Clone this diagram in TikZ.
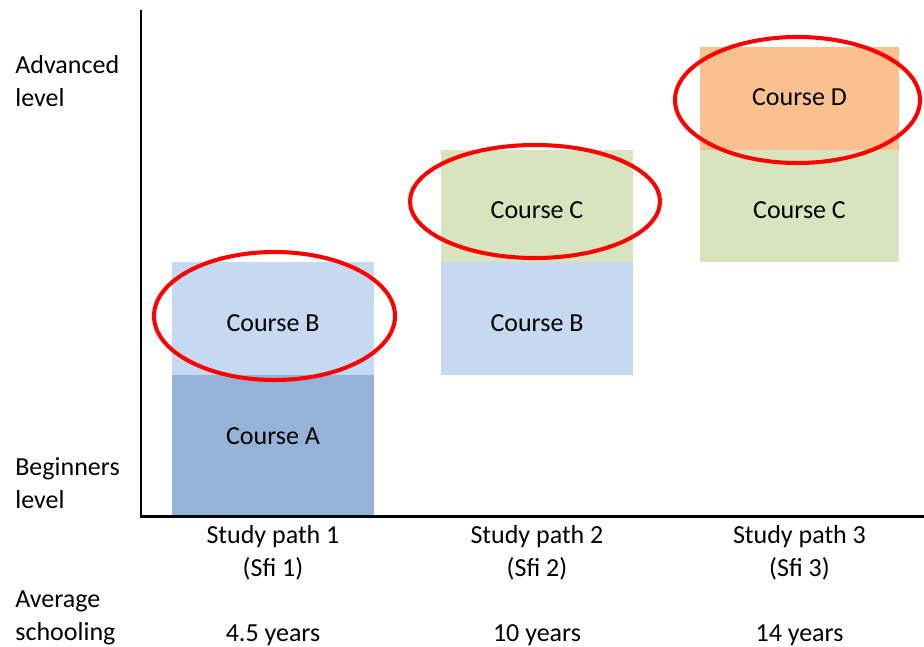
\documentclass[tikz,border=0pt]{standalone}
\usepackage{fontspec}
\setmainfont{Carlito}
\usetikzlibrary{positioning}
\definecolor{courseA}{HTML}{95B3D7}
\definecolor{courseB}{HTML}{C5D9F1}
\definecolor{courseC}{HTML}{D7E4BD}
\definecolor{courseD}{HTML}{FAC090}
\begin{document}
\begin{tikzpicture}[
		txt/.style={inner sep=0pt, font=\fontsize{14.8}{18.6}\selectfont},
		box/.style={txt, rectangle, outer sep=0pt, text height=0.5cm, text depth=0pt},
		lbl/.style={txt, align=left, anchor=west},
		pathlbl/.style={txt, align=center},
		ring/.style={draw=red, line width=2.3pt},
		axis/.style={line width=1.7pt, line join=miter}
	]
	\useasboundingbox (0,0) rectangle (18.48,12.92);

	% Define course boxes
	\node[box, fill=courseA, minimum width=4.04cm, minimum height=2.82cm, text depth=0.56cm] (p1a) at (5.46,4.01) {Course A};
	\node[box, fill=courseB, minimum width=4.04cm, minimum height=2.26cm, above=0pt of p1a] (p1b) {Course B};

	\node[box, fill=courseB, minimum width=3.84cm, minimum height=2.26cm] (p2b) at (10.74,6.55) {Course B};
	\node[box, fill=courseC, minimum width=3.84cm, minimum height=2.24cm, above=0pt of p2b] (p2c) {Course C};

	\node[box, fill=courseC, minimum width=3.98cm, minimum height=2.24cm] (p3c) at (15.99,8.80) {Course C};
	\node[box, fill=courseD, minimum width=3.98cm, minimum height=2.06cm, text height=0.3cm, above=0pt of p3c] (p3d) {Course D};

	% Axes
	\coordinate (top) at (2.82,12.72);
	\coordinate (origin) at (2.82,2.6);
	\coordinate (right) at (18.48,2.6);
	\draw[axis] (top) -- (origin) -- (right);

	% Red rings
	\draw[ring] (p1b) ++(0.03,0.05) ellipse [x radius=2.41cm, y radius=1.28cm];
	\draw[ring] (p2c) ++(-0.04,0.09) ellipse [x radius=2.50cm, y radius=1.13cm];
	\draw[ring] (p3d) ++(-0.04,-0.03) ellipse [x radius=2.45cm, y radius=1.26cm];

	% Level labels
	\node[lbl] (adv) at (0.30,11.30) {Advanced\\level};
	\node[lbl] (beg) at (0.30,3.26) {Beginners\\level};
	\node[lbl] (avg) at (0.30,0.56) {Average\\schooling};

	% Study paths
	\node[pathlbl] (sp1) at (5.46,1.87) {Study path 1\\(Sfi 1)};
	\node[pathlbl] (sp2) at (10.74,1.87) {Study path 2\\(Sfi 2)};
	\node[pathlbl] (sp3) at (15.99,1.87) {Study path 3\\(Sfi 3)};

	\node[txt] (y1) at (5.46,0.22) {4.5 years};
	\node[txt] (y2) at (10.74,0.22) {10 years};
	\node[txt] (y3) at (15.99,0.22) {14 years};

\end{tikzpicture}
\end{document}
